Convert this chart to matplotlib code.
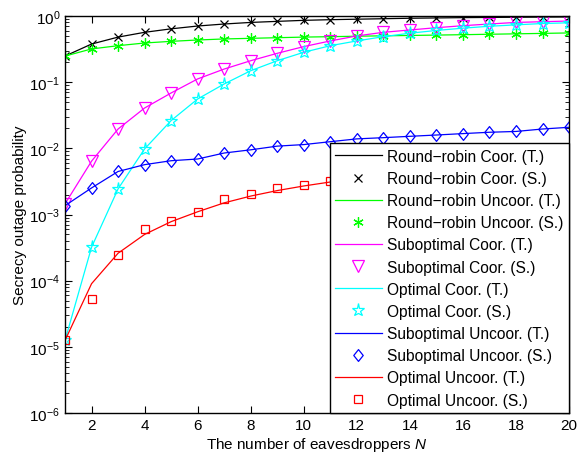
import numpy as np
import matplotlib
matplotlib.use("Agg")
import matplotlib.pyplot as plt
from matplotlib.lines import Line2D
from matplotlib.path import Path
from matplotlib.ticker import LogLocator, NullFormatter

plt.rcParams.update({
    "font.family": ["Liberation Sans", "DejaVu Sans"],
    "mathtext.fontset": "custom",
    "mathtext.rm": "Liberation Sans",
    "mathtext.it": "Liberation Sans:italic",
    "font.size": 10,
})

N = np.arange(1, 21)

rr_coor = [0.248, 0.377, 0.48, 0.567, 0.64, 0.706, 0.757, 0.80, 0.83, 0.86,
           0.88, 0.895, 0.91, 0.925, 0.935, 0.945, 0.952, 0.958, 0.963, 0.968]
rr_uncoor = [0.248, 0.318, 0.356, 0.391, 0.414, 0.434, 0.45, 0.46, 0.47, 0.48,
             0.487, 0.495, 0.502, 0.508, 0.515, 0.522, 0.53, 0.538, 0.546, 0.555]
sub_coor = [1.45e-3, 6.4e-3, 0.0196, 0.0407, 0.0687, 0.112, 0.158, 0.211, 0.273, 0.345,
            0.42, 0.50, 0.567, 0.615, 0.666, 0.714, 0.757, 0.80, 0.82, 0.84]
opt_coor = [1.25e-5, 3.2e-4, 2.44e-3, 9.8e-3, 0.0263, 0.0557, 0.094, 0.149, 0.211, 0.283,
            0.356, 0.42, 0.487, 0.55, 0.605, 0.655, 0.70, 0.735, 0.77, 0.79]
sub_uncoor = [1.36e-3, 2.52e-3, 4.47e-3, 5.67e-3, 6.5e-3, 6.9e-3, 8.5e-3, 9.5e-3, 0.0108, 0.0114,
              0.0126, 0.0139, 0.0145, 0.0152, 0.0159, 0.0167, 0.0175, 0.018, 0.0196, 0.0208]
opt_uncoor_t = [1.25e-5, 9e-5, 2.6e-4, 5.0e-4, 7.8e-4, 1.1e-3, 1.5e-3, 1.9e-3, 2.3e-3, 2.7e-3,
                3.1e-3, 3.5e-3, 3.9e-3, 4.35e-3, 4.8e-3, 5.3e-3, 5.8e-3, 6.4e-3, 7.0e-3, 7.7e-3]
opt_uncoor_s = [1.25e-5, 5.3e-5, 2.45e-4, 6.1e-4, 8.1e-4, 1.08e-3, 1.72e-3, 2.04e-3, 2.5e-3, 2.75e-3,
                3.2e-3, 3.6e-3, 4.0e-3, 4.4e-3, 4.9e-3, 5.4e-3, 5.9e-3, 6.5e-3, 7.1e-3, 7.8e-3]

asterisk = (6, 2, 0)
diamond = Path([(0, 1), (0.8, 0), (0, -1), (-0.8, 0), (0, 1)],
               [Path.MOVETO, Path.LINETO, Path.LINETO, Path.LINETO, Path.CLOSEPOLY])

# name, colour, marker, marker size, theory, simulation
series = [
    ("Round\u2212robin Coor.", "k", "x", 5.5, rr_coor, rr_coor),
    ("Round\u2212robin Uncoor.", "#00ff00", asterisk, 7.5, rr_uncoor, rr_uncoor),
    ("Suboptimal Coor.", "#ff00ff", "v", 8, sub_coor, sub_coor),
    ("Optimal Coor.", "#00ffff", "*", 9.5, opt_coor, opt_coor),
    ("Suboptimal Uncoor.", "#0000ff", diamond, 8.5, sub_uncoor, sub_uncoor),
    ("Optimal Uncoor.", "#ff0000", "s", 6, opt_uncoor_t, opt_uncoor_s),
]

fig = plt.figure(figsize=(5.78, 4.56), dpi=100)
ax = fig.add_axes([0.1125, 0.0921, 0.872, 0.8706])

handles = []
for name, col, mk, ms, th, sim in series:
    ax.plot(N, th, color=col, lw=0.9)
    ax.plot(N, sim, ls="none", marker=mk, color=col, mfc="none", ms=ms, mew=0.9)
    handles.append(Line2D([], [], color=col, lw=0.9, label=name + " (T.)"))
    handles.append(Line2D([], [], ls="none", marker=mk, color=col, mfc="none",
                          ms=ms, mew=0.9, label=name + " (S.)"))

ax.set_yscale("log")
ax.set_xlim(1, 20)
ax.set_ylim(1e-6, 1)
ax.set_xticks(np.arange(2, 21, 2))
ax.set_yticks([1e-6, 1e-5, 1e-4, 1e-3, 1e-2, 1e-1, 1])
ax.yaxis.set_minor_locator(LogLocator(base=10, subs=np.arange(2, 10), numticks=20))
ax.yaxis.set_minor_formatter(NullFormatter())
ax.tick_params(which="both", direction="in", top=True, right=True, labelsize=11)
ax.tick_params(which="major", length=5)
ax.tick_params(which="minor", length=3)
for s in ax.spines.values():
    s.set_linewidth(1.0)

ax.set_xlabel("The number of eavesdroppers $\\mathit{N}$", fontsize=11, labelpad=2)
ax.set_ylabel("Secrecy outage probability", fontsize=11, labelpad=2)

leg = ax.legend(handles=handles, loc="lower right", borderaxespad=0, fancybox=False,
                edgecolor="k", framealpha=1, numpoints=1, handlelength=3.0,
                labelspacing=0.46, fontsize=11.2, borderpad=0.35, handletextpad=0.35)
leg.get_frame().set_linewidth(1.0)

fig.savefig("out.png", dpi=100)
